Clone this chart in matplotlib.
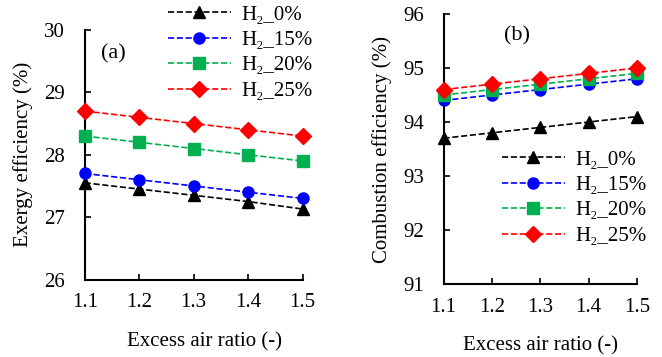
import matplotlib
matplotlib.use("Agg")
import matplotlib.pyplot as plt

plt.rcParams['font.family'] = ['Liberation Serif', 'DejaVu Serif']
plt.rcParams['font.size'] = 15

x = [1.1, 1.2, 1.3, 1.4, 1.5]
labels = ["H\u2082_0%", "H\u2082_15%", "H\u2082_20%", "H\u2082_25%"]
colors = ["black", "#0000ff", "#00b050", "#ff0000"]
markers = ["^", "o", "s", "D"]

exergy_h0 = [27.55, 27.45, 27.35, 27.25, 27.13]
exergy_h15 = [27.7, 27.6, 27.5, 27.4, 27.3]
exergy_h20 = [28.3, 28.2, 28.1, 28.0, 27.9]
exergy_h25 = [28.7, 28.6, 28.5, 28.4, 28.3]

comb_h0 = [93.7, 93.8, 93.9, 94.0, 94.1]
comb_h15 = [94.4, 94.5, 94.6, 94.7, 94.8]
comb_h20 = [94.5, 94.6, 94.7, 94.8, 94.9]
comb_h25 = [94.6, 94.7, 94.8, 94.9, 95.0]

fig = plt.figure(figsize=(6.62, 3.57), dpi=100)
ax1 = fig.add_axes([0.128, 0.217, 0.329, 0.699])
ax2 = fig.add_axes([0.670, 0.204, 0.292, 0.757])

def style(ax):
    for s in ['top', 'right']:
        ax.spines[s].set_visible(False)
    for s in ['left', 'bottom']:
        ax.spines[s].set_linewidth(1.5)
    ax.tick_params(direction='in', length=4, width=1.2, labelsize=15)
    ax.tick_params(axis='x', pad=10)
    ax.tick_params(axis='y', pad=14)
    ax.set_xlim(1.1, 1.5)
    ax.set_xticks(x)
    ax.set_xticklabels(["1.1", "1.2", "1.3", "1.4", "1.5"])
    ax.set_xlabel("Excess air ratio (-)", fontsize=15, labelpad=14)

for ax, series in [(ax1, [exergy_h0, exergy_h15, exergy_h20, exergy_h25]),
                   (ax2, [comb_h0, comb_h15, comb_h20, comb_h25])]:
    for ys, c, m, lab in zip(series, colors, markers, labels):
        ax.plot(x, ys, linestyle='--', color=c, marker=m, markersize=8,
                linewidth=1.2, label=lab, clip_on=False, zorder=3)
    style(ax)

ax1.set_ylim(26, 30)
ax1.set_yticks([26, 27, 28, 29, 30])
ax1.set_ylabel("Exergy efficiency (%)", fontsize=15, labelpad=8)
ax1.text(1.13, 29.55, "(a)", fontsize=16)
ax1.legend(loc='upper left', bbox_to_anchor=(168 / 662, 1 - 5 / 357),
           bbox_transform=fig.transFigure, frameon=False,
           handlelength=3.0, labelspacing=0.28, borderpad=0, borderaxespad=0,
           handletextpad=0.5, fontsize=15)
fig.canvas.draw()
lx, ly = ax1.xaxis.label.get_position()
ax1.xaxis.set_label_coords(0.55, ax1.transAxes.inverted().transform(
    ax1.xaxis.label.get_window_extent().get_points().mean(axis=0))[1] - 0.0)
ax1.xaxis.label.set_va('center')

ax2.set_ylim(91, 96)
ax2.set_yticks([91, 92, 93, 94, 95, 96])
ax2.set_ylabel("Combustion efficiency (%)", fontsize=15, labelpad=8)
ax2.text(1.225, 95.5, "(b)", fontsize=16)
ax2.legend(loc='upper left', bbox_to_anchor=(502 / 662, 1 - 150 / 357),
           bbox_transform=fig.transFigure, frameon=False,
           handlelength=3.0, labelspacing=0.28, borderpad=0, borderaxespad=0,
           handletextpad=0.5, fontsize=15)

fig.savefig("out.png", dpi=100)
